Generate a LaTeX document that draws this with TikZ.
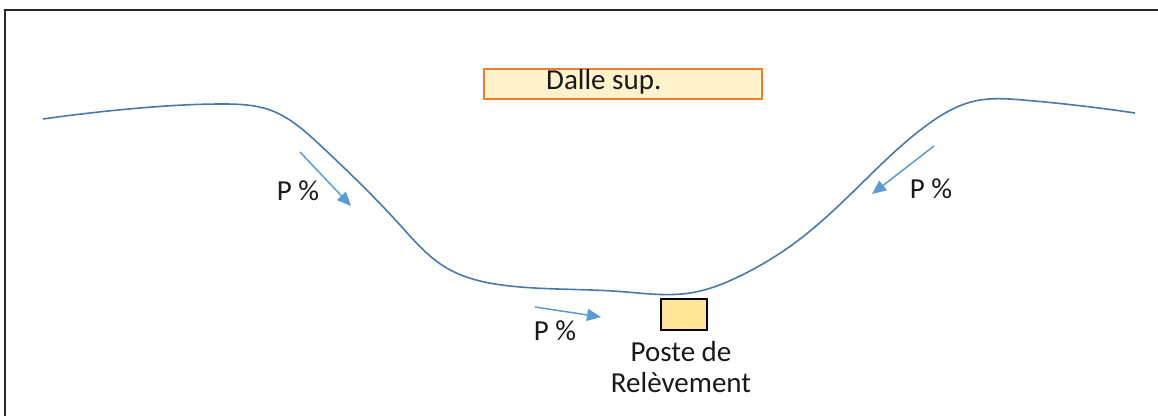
\documentclass[tikz,border=0pt]{standalone}
\usepackage{fontspec}
\setmainfont{Carlito}
\usetikzlibrary{arrows.meta,hobby}
\definecolor{curveblue}{RGB}{74,120,172}
\definecolor{arrowblue}{RGB}{91,155,213}
\definecolor{dallefill}{RGB}{255,242,204}
\definecolor{dalledraw}{RGB}{237,125,49}
\definecolor{postefill}{RGB}{255,230,153}
\tikzset{
  lbl/.style={font=\fontsize{29}{31}\selectfont, inner sep=0pt, text=black!90},
  slope/.style={draw=arrowblue, line width=1.5pt, -{Triangle[length=14pt,width=12pt]}},
  ground/.style={draw=curveblue, line width=1.6pt},
}
\begin{document}
\begin{tikzpicture}[x=1pt,y=-1pt]
\useasboundingbox (0,0) rectangle (1158,416);
% frame
\draw[line width=2pt, black!85] (5,416) -- (5,10) -- (1158,10);
% ground profile
\draw[ground, use Hobby shortcut] (43,119) .. (140,108) .. (223,104) .. (270,110) .. (320,145)
 .. (400,225) .. (445,267) .. (510,286) .. (620,291.5) .. (690,293) .. (740,276)
 .. (800,239) .. (860,185) .. (927,125) .. (975,101) .. (1023,100) .. (1135,113);
% Dalle sup.
\node[draw=dalledraw, fill=dallefill, line width=1.5pt, minimum width=278pt, minimum height=30pt, inner sep=0pt, anchor=north west] (dalle) at (483,68) {};
\node[lbl, anchor=base west] (dalletxt) at (546,89) {Dalle sup.};
% Poste de relevement
\node[draw=black, fill=postefill, line width=1.5pt, minimum width=46pt, minimum height=31pt, inner sep=0pt, anchor=north west] (poste) at (660,298) {};
\node[lbl, align=center, anchor=base] (postetxt) at (681,392) {Poste de\\Relèvement};
% slope arrows
\coordinate (a1s) at (300,152); \coordinate (a1e) at (351,206);
\coordinate (a2s) at (934,146); \coordinate (a2e) at (872,194);
\coordinate (a3s) at (535,307); \coordinate (a3e) at (601,317);
\draw[slope] (a1s) -- (a1e);
\draw[slope] (a2s) -- (a2e);
\draw[slope] (a3s) -- (a3e);
\node[lbl, anchor=base] (p1) at (298,200) {P \%};
\node[lbl, anchor=base] (p2) at (931,198) {P \%};
\node[lbl, anchor=base] (p3) at (555,340) {P \%};
\end{tikzpicture}
\end{document}
